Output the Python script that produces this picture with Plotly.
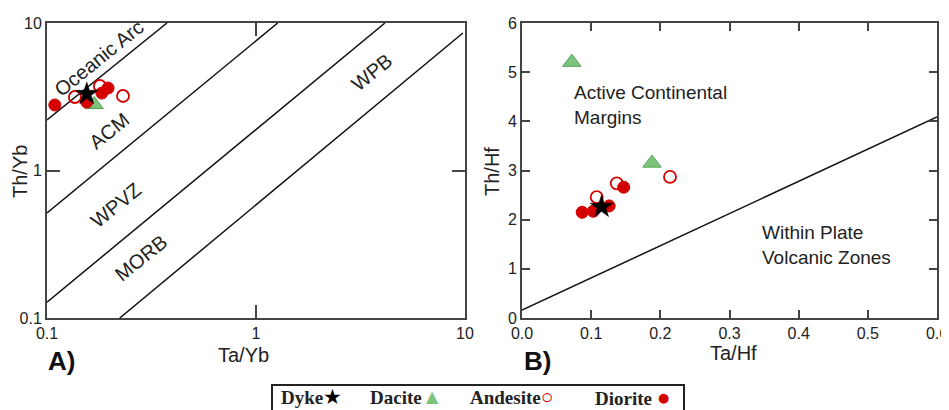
import plotly.graph_objects as go

# ---------------- data ----------------
# Panel A: Th/Yb vs Ta/Yb
dyke_tayb = [0.155]
dyke_thyb = [3.30]
dacite_tayb = [0.168]
dacite_thyb = [2.80]
andesite_tayb = [0.136, 0.179, 0.231]
andesite_thyb = [3.15, 3.74, 3.20]
diorite_tayb = [0.109, 0.155, 0.183, 0.196]
diorite_thyb = [2.78, 2.91, 3.35, 3.62]

# Panel A boundary lines (Ta/Yb, Th/Yb endpoints)
bound_a_x = [[0.1, 0.375], [0.1, 1.27], [0.1, 4.14], [0.223, 9.77]]
bound_a_y = [[2.2, 10.0], [0.515, 10.0], [0.128, 10.0], [0.1, 8.55]]
region_a_labels = ["Oceanic Arc", "ACM", "WPVZ", "MORB", "WPB"]

# Panel B: Th/Hf vs Ta/Hf
dyke_tahf = [0.115]
dyke_thhf = [2.26]
dacite_tahf = [0.072, 0.188]
dacite_thhf = [5.20, 3.15]
andesite_tahf = [0.108, 0.137, 0.214]
andesite_thhf = [2.46, 2.74, 2.87]
diorite_tahf = [0.087, 0.103, 0.126, 0.147]
diorite_thhf = [2.15, 2.17, 2.28, 2.66]

# Panel B boundary line
bound_b_x = [0.0, 0.6]
bound_b_y = [0.16, 4.09]

# axis ticks
ticks_a = [0.1, 1, 10]
ticks_a_text = ["0.1", "1", "10"]

# ---------------- styles ----------------
OFF = 8  # page body margin
W, H = 949 - OFF, 410 - OFF
RED = "#d40000"
GREEN = "#7cc47c"
GREEN_EDGE = "#55a455"
AX = "#444444"
TXT = "#222222"
SANS = "Liberation Sans, Arial, sans-serif"
SERIF = "Liberation Serif, Times New Roman, serif"


def px(x):
    return (x - OFF) / W


def py(y):
    return 1 - (y - OFF) / H


fig = go.Figure()

# boundary lines
for bx, by in zip(bound_a_x, bound_a_y):
    fig.add_trace(go.Scatter(x=bx, y=by, mode="lines", line=dict(color="#111", width=1.5),
                             xaxis="x", yaxis="y", showlegend=False, hoverinfo="skip"))
fig.add_trace(go.Scatter(x=bound_b_x, y=bound_b_y, mode="lines", line=dict(color="#111", width=1.5),
                         xaxis="x2", yaxis="y2", showlegend=False, hoverinfo="skip"))

styles = {
    "Dacite": dict(symbol="triangle-up", size=16, color=GREEN, line=dict(color=GREEN_EDGE, width=1)),
    "Andesite": dict(symbol="circle-open", size=12, color=RED, line=dict(color=RED, width=1.8)),
    "Diorite": dict(symbol="circle", size=12, color=RED, line=dict(color=RED, width=1)),
    "Dyke": dict(symbol="star", size=17, color="black", line=dict(color="black", width=0.5)),
}
series_a = {
    "Dacite": (dacite_tayb, dacite_thyb),
    "Andesite": (andesite_tayb, andesite_thyb),
    "Diorite": (diorite_tayb, diorite_thyb),
    "Dyke": (dyke_tayb, dyke_thyb),
}
series_b = {
    "Dacite": (dacite_tahf, dacite_thhf),
    "Andesite": (andesite_tahf, andesite_thhf),
    "Diorite": (diorite_tahf, diorite_thhf),
    "Dyke": (dyke_tahf, dyke_thhf),
}
for name in ["Dacite", "Andesite", "Diorite", "Dyke"]:
    xa, ya = series_a[name]
    fig.add_trace(go.Scatter(x=xa, y=ya, mode="markers", name=name, marker=styles[name],
                             xaxis="x", yaxis="y", showlegend=False))
    xb, yb = series_b[name]
    fig.add_trace(go.Scatter(x=xb, y=yb, mode="markers", name=name, marker=styles[name],
                             xaxis="x2", yaxis="y2", showlegend=False))

axis_common = dict(showline=True, linecolor=AX, linewidth=2, mirror="ticks", ticks="inside",
                   tickcolor=AX, tickwidth=1.5, showgrid=False, zeroline=False, automargin=False,
                   tickfont=dict(family=SANS, size=16, color=TXT))

fig.update_layout(
    width=W, height=H, margin=dict(l=0, r=0, t=0, b=0), autosize=False,
    paper_bgcolor="white", plot_bgcolor="white",
    xaxis=dict(domain=[px(47), px(465)], type="log", range=[-1, 1], tickvals=ticks_a,
               ticktext=ticks_a_text, ticklen=13, anchor="y", **axis_common),
    yaxis=dict(domain=[py(318), py(23)], type="log", range=[-1, 1], tickvals=ticks_a,
               ticktext=ticks_a_text, ticklen=13, anchor="x", **axis_common),
    xaxis2=dict(domain=[px(522), px(937)], range=[0, 0.6], dtick=0.1, tickformat=".1f",
                ticklen=8, anchor="y2", **axis_common),
    yaxis2=dict(domain=[py(318), py(23)], range=[0, 6], dtick=1, ticklen=8, anchor="x2",
                **axis_common),
)

ann = []


def paper_text(text, x, y, size, angle=0, xanchor="center", yanchor="middle", family=SANS,
               color=TXT, align="center"):
    return dict(text=text, x=px(x), y=py(y), xref="paper", yref="paper", showarrow=False,
                xanchor=xanchor, yanchor=yanchor, textangle=angle, align=align,
                font=dict(family=family, size=size, color=color))


# axis titles
ann.append(paper_text("Ta/Yb", 243, 355, 20))
ann.append(paper_text("Th/Yb", 20, 172, 20, angle=-90))
ann.append(paper_text("Ta/Hf", 733, 353, 20))
ann.append(paper_text("Th/Hf", 492, 172, 20, angle=-90))
# panel letters
ann.append(paper_text("<b>A)</b>", 61, 361, 26, color="#111"))
ann.append(paper_text("<b>B)</b>", 537, 361, 26, color="#111"))

# region labels panel A (log coordinates)
region_pos = [(-0.751, 0.763), (-0.703, 0.268), (-0.670, -0.234), (-0.550, -0.593), (0.555, 0.668)]
for lab, (lx, ly) in zip(region_a_labels, region_pos):
    ann.append(dict(text=lab, x=lx, y=ly, xref="x", yref="y", showarrow=False, textangle=-39,
                    xanchor="center", yanchor="middle",
                    font=dict(family=SANS, size=20, color=TXT)))

# region labels panel B
ann.append(paper_text("Active Continental<br>Margins", 572, 80, 19, xanchor="left", yanchor="top",
                      align="left"))
ann.append(paper_text("Within Plate<br>Volcanic Zones", 760, 220, 19, xanchor="left", yanchor="top",
                      align="left"))

# legend (text with symbols to the right)
leg_items = [
    (279, "<b>Dyke</b><span style='color:black;font-size:21px'>★</span>"),
    (368, "<b>Dacite</b><span style='color:%s;font-size:21px'>▲</span>" % GREEN),
    (468, "<b>Andesite</b><span style='color:%s;font-size:21px'><b>○</b></span>" % RED),
    (593, "<b>Diorite</b> <span style='color:%s;font-size:23px'>●</span>" % RED),
]
for lx, t in leg_items:
    ann.append(paper_text(t, lx, 397, 19, xanchor="left", family=SERIF))
fig.update_layout(annotations=ann)

fig.add_shape(type="rect", xref="paper", yref="paper", x0=px(272), x1=px(684), y0=py(420), y1=py(385),
              line=dict(color="#222", width=2), fillcolor="rgba(0,0,0,0)")

fig.write_html("out.html")
